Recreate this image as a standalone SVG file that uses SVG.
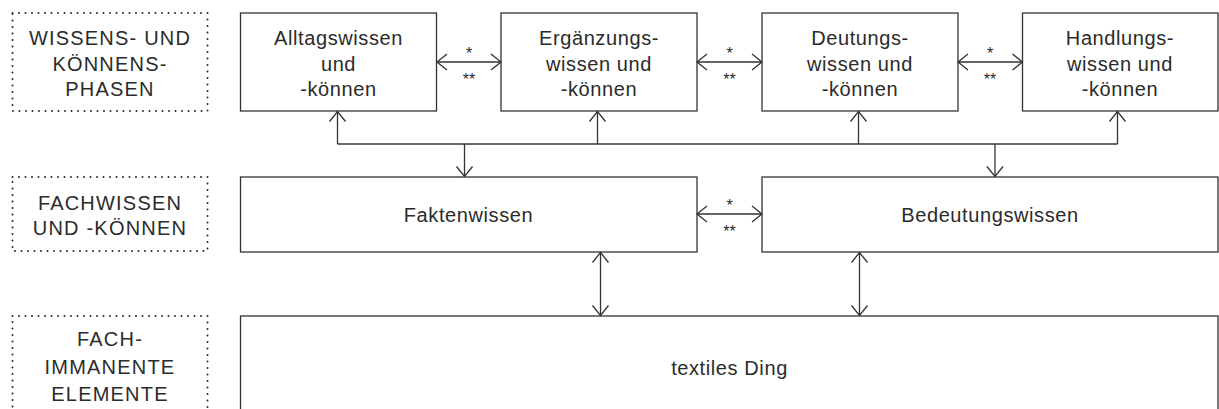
<svg xmlns="http://www.w3.org/2000/svg" width="1219" height="409" viewBox="0 0 1219 409">
  <style>
    .box { fill: #fff; stroke: #333; stroke-width: 1.3; }
    .dots { fill: none; stroke: #2b2b2b; stroke-width: 2; stroke-linecap: round; stroke-dasharray: 0 6.5; }
    .t { font-family: "Liberation Sans", Arial, sans-serif; font-size: 20px; fill: #2b2b2b; text-anchor: middle; letter-spacing: 0.6px; }
    .cap { font-family: "Liberation Sans", Arial, sans-serif; font-size: 20px; fill: #2b2b2b; text-anchor: middle; letter-spacing: 1.2px; }
    .star { font-family: "Liberation Sans", Arial, sans-serif; font-size: 16px; fill: #2b2b2b; text-anchor: middle; }
    .ln { fill: none; stroke: #333; stroke-width: 1.3; }
    .arr { marker-end: url(#head); }
    .arr2 { marker-start: url(#head); marker-end: url(#head); }
  </style>
  <defs>
    <marker id="head" markerUnits="userSpaceOnUse" orient="auto-start-reverse" refX="0" refY="0" markerWidth="24" markerHeight="24" viewBox="-12 -12 24 24" overflow="visible">
      <path d="M-10,-8 L0,0 L-10,8" fill="none" stroke="#333" stroke-width="1.3"/>
    </marker>
  </defs>

  <rect width="1219" height="409" fill="#fff"/>

  <!-- row labels -->
  <g id="label-phasen">
    <rect class="dots" x="12.5" y="13" width="195" height="98"/>
    <text class="cap" x="110" y="45">WISSENS- UND</text>
    <text class="cap" x="110" y="70.5">KÖNNENS-</text>
    <text class="cap" x="110" y="96">PHASEN</text>
  </g>
  <g id="label-fachwissen">
    <rect class="dots" x="12.5" y="177" width="195" height="74"/>
    <text class="cap" x="110" y="209.5">FACHWISSEN</text>
    <text class="cap" x="110" y="235">UND -KÖNNEN</text>
  </g>
  <g id="label-elemente">
    <rect class="dots" x="12.5" y="316" width="195" height="120"/>
    <text class="cap" x="110" y="346">FACH-</text>
    <text class="cap" x="110" y="374">IMMANENTE</text>
    <text class="cap" x="110" y="400.5">ELEMENTE</text>
  </g>

  <!-- phase boxes -->
  <g id="alltagswissen">
    <rect class="box" x="240.5" y="13" width="196" height="98"/>
    <text class="t" x="338.5" y="44.5">Alltagswissen</text>
    <text class="t" x="338.5" y="70.5">und</text>
    <text class="t" x="338.5" y="96">-können</text>
  </g>
  <g id="ergaenzungswissen">
    <rect class="box" x="501" y="13" width="196" height="98"/>
    <text class="t" x="599" y="44.5">Ergänzungs-</text>
    <text class="t" x="599" y="70.5">wissen und</text>
    <text class="t" x="599" y="96">-können</text>
  </g>
  <g id="deutungswissen">
    <rect class="box" x="762" y="13" width="196" height="98"/>
    <text class="t" x="860" y="44.5">Deutungs-</text>
    <text class="t" x="860" y="70.5">wissen und</text>
    <text class="t" x="860" y="96">-können</text>
  </g>
  <g id="handlungswissen">
    <rect class="box" x="1022.5" y="13" width="195.5" height="98"/>
    <text class="t" x="1120" y="44.5">Handlungs-</text>
    <text class="t" x="1120" y="70.5">wissen und</text>
    <text class="t" x="1120" y="96">-können</text>
  </g>

  <!-- subject knowledge -->
  <g id="faktenwissen">
    <rect class="box" x="240.5" y="177" width="456.5" height="75"/>
    <text class="t" x="468.5" y="221.5">Faktenwissen</text>
  </g>
  <g id="bedeutungswissen">
    <rect class="box" x="762" y="177" width="456" height="75"/>
    <text class="t" x="990" y="221.5">Bedeutungswissen</text>
  </g>

  <!-- object -->
  <g id="textiles-ding">
    <rect class="box" x="240.5" y="316" width="977.5" height="120"/>
    <text class="t" x="729.5" y="375">textiles Ding</text>
  </g>

  <!-- connectors -->
  <g id="connectors">
    <line class="ln arr2" x1="437" y1="62" x2="501" y2="62"/>
    <line class="ln arr2" x1="697" y1="62" x2="762" y2="62"/>
    <line class="ln arr2" x1="958" y1="62" x2="1022.5" y2="62"/>
    <text class="star" x="469" y="59">*</text>
    <text class="star" x="469" y="84.5">**</text>
    <text class="star" x="729.5" y="59">*</text>
    <text class="star" x="729.5" y="84.5">**</text>
    <text class="star" x="990" y="59">*</text>
    <text class="star" x="990" y="84.5">**</text>

    <line class="ln" x1="337.5" y1="144" x2="1117.5" y2="144"/>
    <line class="ln arr" x1="337.5" y1="144" x2="337.5" y2="111.5"/>
    <line class="ln arr" x1="597.5" y1="144" x2="597.5" y2="111.5"/>
    <line class="ln arr" x1="858.5" y1="144" x2="858.5" y2="111.5"/>
    <line class="ln arr" x1="1117.5" y1="144" x2="1117.5" y2="111.5"/>
    <line class="ln arr" x1="464.5" y1="144" x2="464.5" y2="176.5"/>
    <line class="ln arr" x1="995" y1="144" x2="995" y2="176.5"/>

    <line class="ln arr2" x1="697" y1="214" x2="762" y2="214"/>
    <text class="star" x="729.5" y="211">*</text>
    <text class="star" x="729.5" y="236.5">**</text>

    <line class="ln arr2" x1="600.5" y1="252.5" x2="600.5" y2="315.5"/>
    <line class="ln arr2" x1="859.5" y1="252.5" x2="859.5" y2="315.5"/>
  </g>
</svg>
